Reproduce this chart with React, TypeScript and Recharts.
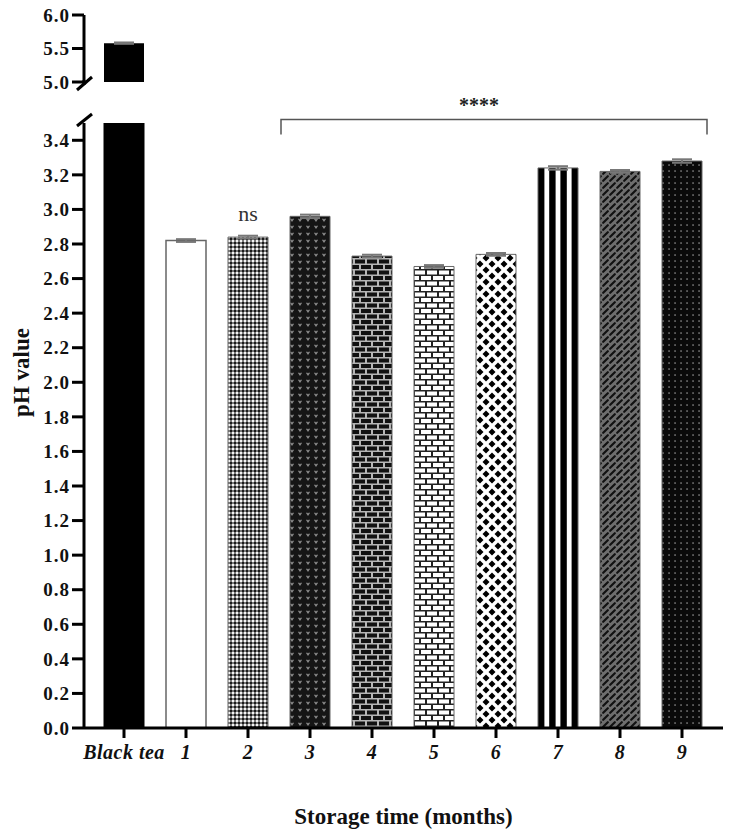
import React from 'react';
import { BarChart, Bar, XAxis, YAxis, ErrorBar, Cell, LabelList, ReferenceLine } from 'recharts';

const categories = ['Black tea', '1', '2', '3', '4', '5', '6', '7', '8', '9'];
const phValues = [5.58, 2.82, 2.84, 2.96, 2.73, 2.67, 2.74, 3.24, 3.22, 3.28];
const phErrors = [0.01, 0.008, 0.008, 0.01, 0.008, 0.008, 0.008, 0.01, 0.008, 0.01];
const sigLabels = ['', '', 'ns', '', '', '', '', '', '', ''];
const topTicks = [5.0, 5.5, 6.0];
const bottomTicks = [0, 0.2, 0.4, 0.6, 0.8, 1.0, 1.2, 1.4, 1.6, 1.8, 2.0, 2.2, 2.4, 2.6, 2.8, 3.0, 3.2, 3.4];
const topDomain = [5, 6];
const bottomDomain = [0, 3.5];
const bracketFrom = '3';
const bracketTo = '9';
const bracketLabel = '****';

const barFills = ['#000', 'url(#p1)', 'url(#p2)', 'url(#p3)', 'url(#p4)', 'url(#p5)', 'url(#p6)', 'url(#p7)', 'url(#p8)', 'url(#p9)'];

const data = categories.map((c, i) => ({
  name: c,
  ph: phValues[i],
  top: phValues[i] >= topDomain[0] ? phValues[i] : null,
  err: phErrors[i],
  sig: sigLabels[i],
}));

const serif = "'Liberation Serif', 'Times New Roman', serif";
const W = 732;
const margin = { left: 30, right: 9 };
const yAxisWidth = 54;
const axisStyle = { stroke: '#000', strokeWidth: 3 };
const yTick = { fill: '#111', fontSize: 19, fontWeight: 700, fontFamily: serif, letterSpacing: 1 };

function Patterns() {
  return (
    <defs>
      <pattern id="p1" width="4" height="4" patternUnits="userSpaceOnUse">
        <rect width="4" height="4" fill="#fff" />
      </pattern>
      <pattern id="p2" width="4" height="4" patternUnits="userSpaceOnUse">
        <rect width="4" height="4" fill="#7a7a7a" />
        <rect width="2" height="2" fill="#f4f4f4" />
        <rect x="2" y="2" width="2" height="2" fill="#1a1a1a" />
      </pattern>
      <pattern id="p3" width="8" height="7" patternUnits="userSpaceOnUse">
        <rect width="8" height="7" fill="#151515" />
        <path d="M2,2 L4,5 L6,2 L5,1.4 L4,2.4 L3,1.4 Z" fill="#8a8a8a" />
      </pattern>
      <pattern id="p4" width="12" height="11" patternUnits="userSpaceOnUse">
        <rect width="12" height="11" fill="#b5b5b5" />
        <rect x="1" y="1" width="10" height="4" fill="#111" />
        <rect x="-5" y="6.5" width="10" height="4" fill="#111" />
        <rect x="7" y="6.5" width="10" height="4" fill="#111" />
      </pattern>
      <pattern id="p5" width="12" height="11" patternUnits="userSpaceOnUse">
        <rect width="12" height="11" fill="#222" />
        <rect x="1" y="1" width="10" height="4" fill="#fff" />
        <rect x="-5" y="6.5" width="10" height="4" fill="#fff" />
        <rect x="7" y="6.5" width="10" height="4" fill="#fff" />
      </pattern>
      <pattern id="p6" width="12" height="12" patternUnits="userSpaceOnUse">
        <rect width="12" height="12" fill="#fff" />
        <path d="M6,2.5 L9.5,6 L6,9.5 L2.5,6 Z" fill="#000" />
        <path d="M0,-3.5 L3.5,0 L0,3.5 L-3.5,0 Z M12,-3.5 L15.5,0 L12,3.5 L8.5,0 Z M0,8.5 L3.5,12 L0,15.5 L-3.5,12 Z M12,8.5 L15.5,12 L12,15.5 L8.5,12 Z" fill="#000" />
      </pattern>
      <pattern id="p7" width="1" height="1" patternUnits="objectBoundingBox" patternContentUnits="objectBoundingBox">
        <rect width="1" height="1" fill="#fff" />
        <rect x="0" width="0.16" height="1" fill="#000" />
        <rect x="0.28" width="0.16" height="1" fill="#000" />
        <rect x="0.56" width="0.16" height="1" fill="#000" />
        <rect x="0.84" width="0.16" height="1" fill="#000" />
      </pattern>
      <pattern id="p8" width="7" height="7" patternUnits="userSpaceOnUse">
        <rect width="7" height="7" fill="#6e6e6e" />
        <path d="M1.2,5.8 L5.8,1.2" stroke="#111" strokeWidth="2.2" strokeLinecap="round" />
      </pattern>
      <pattern id="p9" width="6" height="6" patternUnits="userSpaceOnUse">
        <rect width="6" height="6" fill="#0a0a0a" />
        <rect x="2.4" y="2.4" width="1.3" height="1.3" fill="#aaa" />
      </pattern>
    </defs>
  );
}

function Bracket(props: any) {
  const { x1, x2, y1 } = props;
  const left = x1 - 29;
  const right = x2 + 25;
  return (
    <g>
      <path d={`M${left},${y1 + 15} L${left},${y1} L${right},${y1} L${right},${y1 + 15}`} fill="none" stroke="#555" strokeWidth={1.5} />
      <text x={(x1 + x2) / 2 - 17} y={y1 - 8} textAnchor="middle" fontFamily={serif} fontWeight={700} fontSize={20} fill="#222">
        {bracketLabel}
      </text>
    </g>
  );
}

function YLabel(props: any) {
  const { viewBox } = props;
  const cx = 21;
  const cy = viewBox.y + viewBox.height / 2 - 53;
  return (
    <text x={cx} y={cy} transform={`rotate(-90 ${cx} ${cy})`} textAnchor="middle" dominantBaseline="central" fontFamily={serif} fontWeight={700} fontSize={23} fill="#111">
      pH value
    </text>
  );
}

export default function App() {
  return (
    <div style={{ position: 'absolute', left: 0, top: 0, width: W, height: 840, background: '#fff' }}>
      <div style={{ position: 'absolute', left: 0, top: 0 }}>
        <BarChart width={W} height={100} data={data} margin={{ top: 15, right: margin.right, left: margin.left, bottom: 18 }}>
          <XAxis dataKey="name" hide padding={{ left: 9, right: 10 }} />
          <YAxis
            width={yAxisWidth}
            domain={topDomain}
            ticks={topTicks}
            allowDataOverflow
            tickFormatter={(v: number) => v.toFixed(1)}
            axisLine={axisStyle}
            tickLine={axisStyle}
            tickSize={12}
            tickMargin={2}
            tick={yTick}
          />
          <Bar dataKey="top" barSize={40} fill="#000" isAnimationActive={false}>
            <ErrorBar dataKey="err" width={10} stroke="#777" strokeWidth={2} />
          </Bar>
        </BarChart>
      </div>
      <div style={{ position: 'absolute', left: 0, top: 0 }}>
        <BarChart width={W} height={840} data={data} margin={{ top: 123, right: margin.right, left: margin.left, bottom: 12 }}>
          <Patterns />
          <XAxis
            dataKey="name"
            padding={{ left: 9, right: 10 }}
            height={100}
            interval={0}
            axisLine={axisStyle}
            tickLine={axisStyle}
            tickSize={10}
            tickMargin={7}
            tick={{ fill: '#111', fontSize: 20, fontWeight: 700, fontStyle: 'italic', fontFamily: serif, letterSpacing: 0.5 }}
            label={{ value: 'Storage time (months)', position: 'insideBottom', offset: 4, fill: '#111', fontSize: 23, fontWeight: 700, fontFamily: serif }}
          />
          <YAxis
            width={yAxisWidth}
            domain={bottomDomain}
            ticks={bottomTicks}
            allowDataOverflow
            tickFormatter={(v: number) => v.toFixed(1)}
            axisLine={axisStyle}
            tickLine={axisStyle}
            tickSize={12}
            tickMargin={2}
            tick={yTick}
            label={<YLabel />}
          />
          <Bar dataKey="ph" barSize={40} isAnimationActive={false}>
            {data.map((d, i) => (
              <Cell key={d.name} fill={barFills[i]} stroke={i === 0 ? '#000' : '#666'} strokeWidth={i === 1 ? 1.5 : 1} />
            ))}
            <ErrorBar dataKey="err" width={10} stroke="#777" strokeWidth={2} />
            <LabelList dataKey="sig" position="top" offset={16} fill="#333" fontSize={22} fontFamily={serif} />
          </Bar>
          <ReferenceLine
            segment={[{ x: bracketFrom, y: 3.52 }, { x: bracketTo, y: 3.52 }]}
            ifOverflow="visible"
            shape={<Bracket />}
          />
        </BarChart>
      </div>
      <svg width={W} height={160} style={{ position: 'absolute', left: 0, top: 0, pointerEvents: 'none' }}>
        <line x1={84} y1={80} x2={84} y2={85} stroke="#000" strokeWidth={3} />
        <line x1={77} y1={90} x2={92} y2={77} stroke="#000" strokeWidth={3} />
        <line x1={77} y1={126} x2={92} y2={114} stroke="#000" strokeWidth={3} />
      </svg>
    </div>
  );
}
